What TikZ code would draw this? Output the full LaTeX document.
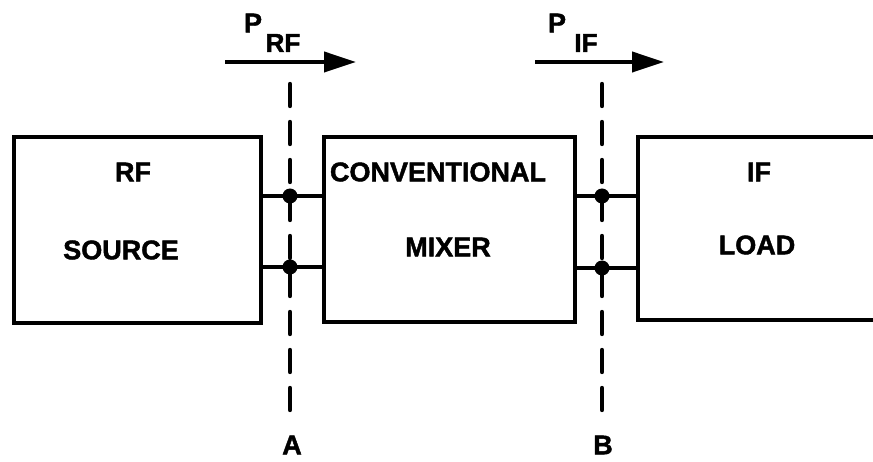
\documentclass[tikz,border=0pt]{standalone}
\usepackage{fontspec}
\setmainfont{Liberation Sans}
\newfontfamily\heavy{Liberation Sans Bold}[FakeBold=1.6]
\usetikzlibrary{arrows.meta}
\begin{document}
\begin{tikzpicture}[x=1pt,y=-1pt,
  blk/.style={draw,line width=4pt,rectangle,inner sep=0pt,anchor=north west},
  lbl/.style={font=\fontsize{27}{29}\heavy,inner sep=0pt},
  sublbl/.style={font=\fontsize{26}{28}\heavy,inner sep=0pt},
  wire/.style={line width=3.2pt},
  cut/.style={line width=4.4pt,line cap=round,dash pattern=on 22pt off 16pt},
  junc/.style={circle,fill,inner sep=0pt,minimum size=15pt},
  pflow/.style={line width=4pt,-{Triangle[length=32pt,width=20pt]}}]
\useasboundingbox (0,0) rectangle (873,462);
\clip (0,0) rectangle (873,462);
% boxes
\node[blk,minimum width=247pt,minimum height=186pt] (src) at (12,135) {};
\node[blk,minimum width=251pt,minimum height=185pt] (mix) at (322,135) {};
\node[blk,minimum width=260pt,minimum height=183pt] (load) at (636,135) {};
% box texts
\node[lbl] (t1) at (133,172) {RF};
\node[lbl] (t2) at (121,250) {SOURCE};
\node[lbl] (t3) at (438,172) {CONVENTIONAL};
\node[lbl] (t4) at (448,247) {MIXER};
\node[lbl] (t5) at (759,172) {IF};
\node[lbl] (t6) at (757,245) {LOAD};
% cut planes
\coordinate (atop) at (290,84);
\coordinate (abot) at (290,416);
\coordinate (btop) at (602,84);
\coordinate (bbot) at (602,416);
\draw[cut] (atop) -- (abot);
\draw[cut] (btop) -- (bbot);
\node[lbl] (la) at (292,445) {A};
\node[lbl] (lb) at (603,445) {B};
% wires
\coordinate (a1) at (290,196);
\coordinate (a2) at (290,267);
\coordinate (b1) at (602,196);
\coordinate (b2) at (602,268);
\draw[wire] (src.east |- a1) -- (mix.west |- a1);
\draw[wire] (src.east |- a2) -- (mix.west |- a2);
\draw[wire] (mix.east |- b1) -- (load.west |- b1);
\draw[wire] (mix.east |- b2) -- (load.west |- b2);
\node[junc] (ja1) at (a1) {};
\node[junc] (ja2) at (a2) {};
\node[junc] (jb1) at (b1) {};
\node[junc] (jb2) at (b2) {};
% power arrows
\coordinate (p1s) at (225,62);
\coordinate (p1e) at (356,62);
\coordinate (p2s) at (535,62);
\coordinate (p2e) at (664,62);
\draw[pflow] (p1s) -- (p1e);
\draw[pflow] (p2s) -- (p2e);
\node[lbl] (prf) at (253,23) {P};
\node[sublbl] (prfs) at (283,43) {RF};
\node[lbl] (pif) at (557,23) {P};
\node[sublbl] (pifs) at (586,43) {IF};
\end{tikzpicture}
\end{document}
